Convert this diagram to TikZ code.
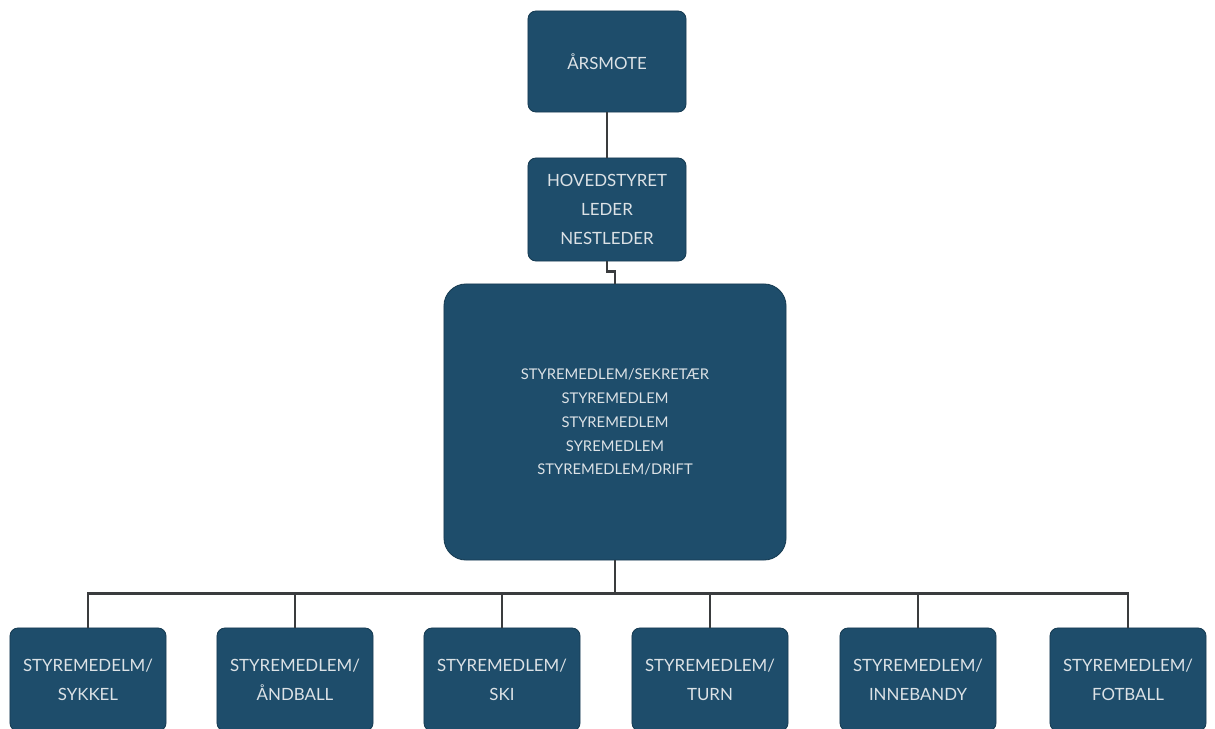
\documentclass[tikz,border=0pt]{standalone}
\usepackage{fontspec}
\setmainfont{Lato}
\usetikzlibrary{calc}
\definecolor{boxblue}{HTML}{1E4D6B}
\definecolor{boxedge}{HTML}{163B52}
\definecolor{boxtext}{HTML}{DCE2E6}
\definecolor{linegray}{HTML}{3A3C3E}
\tikzset{
	orgbox/.style={draw=boxedge, line width=0.6pt, fill=boxblue, rounded corners=0.2cm, text=boxtext, align=center, inner sep=0pt, minimum width=3.95cm, minimum height=2.575cm, font=\fontsize{12}{20.5}\selectfont},
	bigbox/.style={orgbox, rounded corners=0.55cm, minimum width=8.55cm, minimum height=6.9cm, font=\fontsize{10.5}{17}\selectfont},
	link/.style={draw=linegray, line width=0.06cm}
}
\begin{document}
\begin{tikzpicture}[x=0.025cm, y=-0.025cm]
			%%%%% START %%%%%
			
			\useasboundingbox[fill=white] (0, 0) rectangle (1215, 729);
			
			\node[orgbox, minimum height=2.525cm] (arsmote) at (607, 61.5) {ÅRSMOTE};
			\node[orgbox] (hoved) at (607, 209.5) {HOVEDSTYRET\\LEDER\\NESTLEDER};
			\node[bigbox] (styre) at (615, 422) {STYREMEDLEM/SEKRETÆR\\STYREMEDLEM\\STYREMEDLEM\\SYREMEDLEM\\STYREMEDLEM/DRIFT};
			
			\node[orgbox, minimum width=3.9cm] (sykkel) at (88, 679.5) {STYREMEDELM/\\SYKKEL};
			\node[orgbox, minimum width=3.9cm] (handball) at (295, 679.5) {STYREMEDLEM/\\ÅNDBALL};
			\node[orgbox, minimum width=3.9cm] (ski) at (502, 679.5) {STYREMEDLEM/\\SKI};
			\node[orgbox, minimum width=3.9cm] (turn) at (710, 679.5) {STYREMEDLEM/\\TURN};
			\node[orgbox, minimum width=3.9cm] (innebandy) at (918, 679.5) {STYREMEDLEM/\\INNEBANDY};
			\node[orgbox, minimum width=3.9cm] (fotball) at (1128, 679.5) {STYREMEDLEM/\\FOTBALL};
			
			\draw[link] (arsmote.south) -- (hoved.north);
			\draw[link] (hoved.south) -- ++(0, 10) -| (styre.north);
			
			\coordinate (bus) at ($(styre.south) + (0, 33)$);
			\draw[link] (styre.south) -- (bus);
			\draw[link] (bus) -| (sykkel.north);
			\draw[link] (bus) -| (handball.north);
			\draw[link] (bus) -| (ski.north);
			\draw[link] (bus) -| (turn.north);
			\draw[link] (bus) -| (innebandy.north);
			\draw[link] (bus) -| (fotball.north);
			
			%%%%% END %%%%%
\end{tikzpicture}
\end{document}
